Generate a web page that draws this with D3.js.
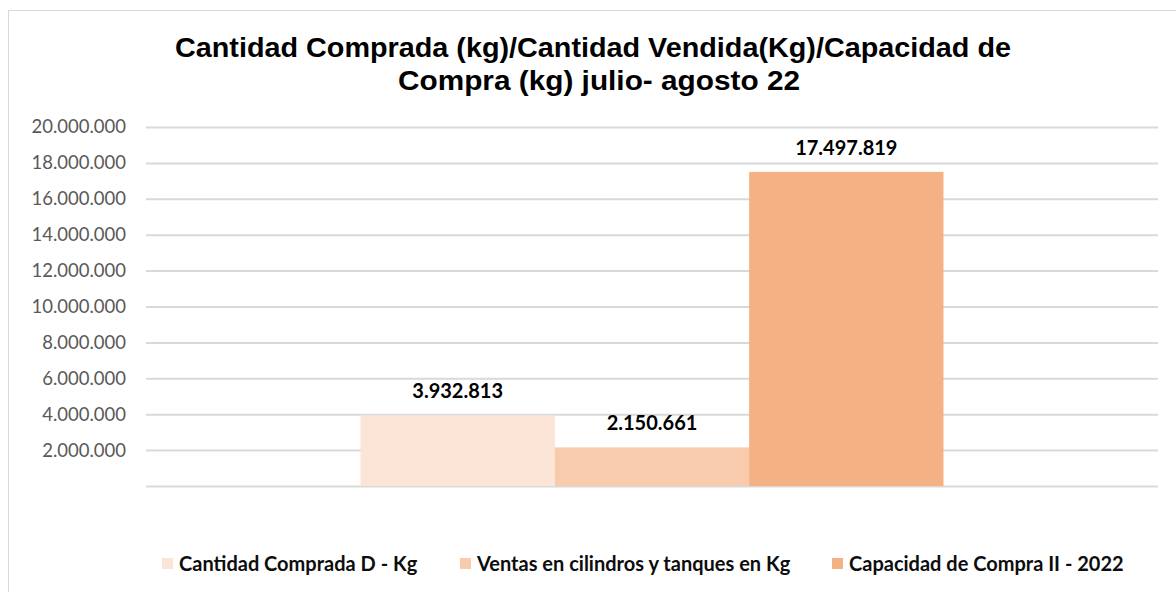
<!DOCTYPE html>
<html><head><meta charset="utf-8">
<script src="https://cdn.jsdelivr.net/npm/d3@7"></script>
<style>body{margin:0;background:#fff;} svg{display:block;}</style>
</head><body>
<svg id="chart" width="1176" height="592"></svg>
<script>
const categories = ["Cantidad Comprada D - Kg", "Ventas en cilindros y tanques en Kg", "Capacidad de Compra II - 2022"];
const values = [3932813, 2150661, 17497819];
const colors = ["#FBE5D6", "#F8CBAD", "#F4B183"];
const tickValues = [0, 2000000, 4000000, 6000000, 8000000, 10000000, 12000000, 14000000, 16000000, 18000000, 20000000];
const titleLines = ["Cantidad Comprada (kg)/Cantidad Vendida(Kg)/Capacidad de", "Compra (kg) julio- agosto 22"];

const svg = d3.select("#chart");
const m = {left: 146, right: 1158, top: 127, bottom: 486};
const bodyFont = "Lato, 'Open Sans', sans-serif";
const fmt = v => d3.format(",")(v).replace(/,/g, ".");

// chart border
svg.append("rect").attr("x", 8.5).attr("y", 10.5).attr("width", 1180).attr("height", 600)
  .attr("fill", "#fff").attr("stroke", "#D9D9D9").attr("stroke-width", 1);

// title
const title = svg.append("text").attr("font-family", "'Liberation Sans Narrow', 'Liberation Sans', Arial, sans-serif")
  .attr("font-weight", "bold").attr("font-size", 27).attr("fill", "#000").attr("text-anchor", "middle");
title.append("tspan").attr("x", 593).attr("y", 57).attr("textLength", 836).attr("lengthAdjust", "spacingAndGlyphs").text(titleLines[0]);
title.append("tspan").attr("x", 599).attr("y", 90).attr("textLength", 402).attr("lengthAdjust", "spacingAndGlyphs").text(titleLines[1]);

const y = d3.scaleLinear().domain([0, 20000000]).range([m.bottom, m.top]);
const x0 = d3.scaleBand().domain(["g"]).range([m.left, m.right]).paddingInner(0).paddingOuter(0.368);
const x1 = d3.scaleBand().domain(categories).range([0, x0.bandwidth()]).padding(0);

// gridlines + y axis
const yAxis = d3.axisLeft(y).tickValues(tickValues).tickSize(-(m.right - m.left))
  .tickFormat(d => d === 0 ? "" : fmt(d)).tickPadding(20);
const ga = svg.append("g").attr("transform", `translate(${m.left},0)`).call(yAxis);
ga.select(".domain").remove();
ga.selectAll(".tick line").attr("stroke", "#D9D9D9").attr("stroke-width", 2);
ga.selectAll(".tick text").attr("font-family", bodyFont).attr("font-size", 18.5).attr("fill", "#595959");

// bars
const g = svg.append("g").attr("transform", `translate(${x0("g")},0)`);
g.selectAll("rect").data(values).join("rect")
  .attr("x", (d, i) => x1(categories[i]))
  .attr("width", x1.bandwidth())
  .attr("y", d => y(d))
  .attr("height", d => y(0) - y(d))
  .attr("fill", (d, i) => colors[i]);

g.selectAll("text.lbl").data(values).join("text").attr("class", "lbl")
  .attr("x", (d, i) => x1(categories[i]) + x1.bandwidth() / 2)
  .attr("y", d => y(d) - 17)
  .attr("text-anchor", "middle")
  .attr("font-family", bodyFont).attr("font-weight", "bold").attr("font-size", 20).attr("fill", "#000")
  .text(d => fmt(d));

// legend
const legX = [162, 460, 832];
const leg = svg.append("g");
categories.forEach((c, i) => {
  leg.append("rect").attr("x", legX[i]).attr("y", 558).attr("width", 11).attr("height", 11).attr("fill", colors[i]);
  leg.append("text").attr("x", legX[i] + 17).attr("y", 571).attr("font-family", bodyFont)
    .attr("font-weight", "bold").attr("font-size", 20).attr("fill", "#0D0D0D").text(c);
});
</script>
</body></html>
